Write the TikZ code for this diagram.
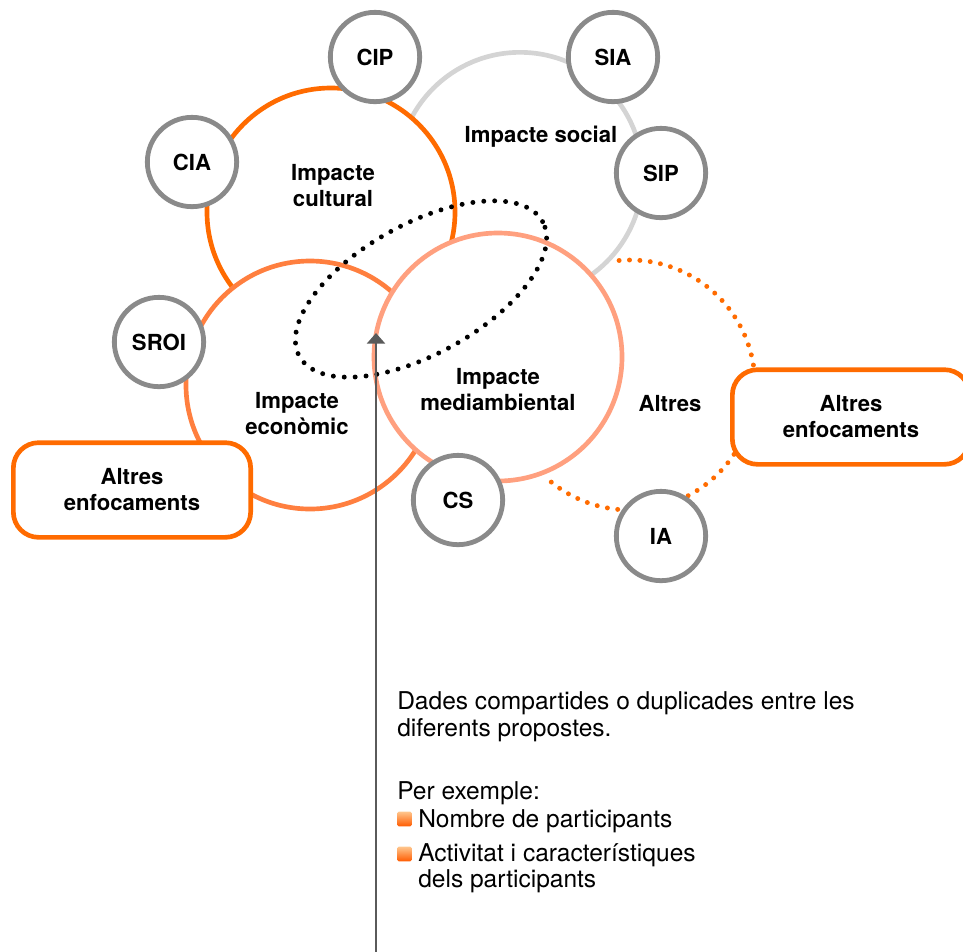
\documentclass[tikz,border=0pt]{standalone}
\usepackage{fontspec}
\setmainfont{TeX Gyre Heros}
\usetikzlibrary{positioning,shapes.geometric,arrows.meta}
\definecolor{cultorange}{HTML}{FF6B00}
\definecolor{ecoorange}{HTML}{FF7F3F}
\definecolor{envsalmon}{HTML}{FFA07F}
\definecolor{socgray}{HTML}{D4D4D4}
\definecolor{methodgray}{HTML}{8A8A8A}
\definecolor{arrowgray}{HTML}{5A5A5A}
\tikzset{
    impactmap/.style={
        x=0.75pt, y=-0.75pt,
        % big circle of one impact area
        area/.style={draw, circle, fill=white, line width=3.5pt,
                     minimum size=186pt, inner sep=0pt},
        % small grey circle of one method
        method/.style={draw=methodgray, circle, fill=white, line width=3.6pt,
                       minimum size=67pt, inner sep=0pt,
                       font=\bfseries\fontsize{16.6}{19.5}\selectfont},
        % rounded box for the other approaches
        approach/.style={draw=cultorange, rectangle, rounded corners=19pt,
                         fill=white, line width=3.5pt, align=center,
                         minimum width=178pt, minimum height=71pt,
                         font=\bfseries\fontsize{16.6}{19.5}\selectfont},
        % label of an impact area
        arealabel/.style={align=center, inner sep=0pt,
                          font=\bfseries\fontsize{16.6}{19.5}\selectfont},
        % dotted outlines
        blackdots/.style={draw=black, line width=3.7pt, line cap=round,
                          dash pattern=on 0pt off 8.2pt},
        altdots/.style={draw=cultorange, line width=3.7pt, line cap=round,
                        dash pattern=on 0pt off 7.8pt},
        pointer/.style={draw=arrowgray, line width=1.9pt,
                        -{Triangle[width=13.5pt,length=8pt]}},
        % explanatory text and its bullets
        note/.style={anchor=base west, inner sep=0pt,
                     font=\fontsize{18.4}{21}\selectfont},
        bullet/.style={rectangle, rounded corners=1.2pt, minimum size=11pt,
                       inner sep=0pt, top color=orange!45!white,
                       bottom color=cultorange!85!red}
    }
}
\begin{document}
\begin{tikzpicture}[impactmap]
  \useasboundingbox (0,0) rectangle (963,951);
  \clip (0,0) rectangle (963,951);

  % impact areas
  \node[area, draw=socgray, minimum size=184pt] (social) at (520,175) {};
  \node[area, draw=cultorange] (cultural) at (331,212) {};
  \node[area, draw=ecoorange] (economic) at (310,385) {};
  \coordinate (altrescenter) at (630,385);
  \draw[altdots] (altrescenter) ++(-95:125) arc[start angle=-95, end angle=133, radius=125];
  \node[area, draw=envsalmon] (environment) at (498,357) {};

  % shared data
  \node[blackdots, ellipse, rotate=29, minimum width=208.5pt, minimum height=97.5pt,
        inner sep=0pt] (shared) at (421,289) {};

  % methods
  \node[method] (cip) at (375,57) {CIP};
  \node[method] (cia) at (192,162) {CIA};
  \node[method] (sia) at (613,57) {SIA};
  \node[method] (sip) at (661,173) {SIP};
  \node[method] (sroi) at (159,342) {SROI};
  \node[method] (cs) at (458,500) {CS};
  \node[method] (ia) at (661,536) {IA};

  % other approaches
  \node[approach] (otherleft) at (132,490) {Altres\\enfocaments};
  \node[approach] (otherright) at (851,417) {Altres\\enfocaments};

  % area labels
  \node[arealabel] (cultlabel) at (333,186) {Impacte\\cultural};
  \node[arealabel] (soclabel) at (541,137) {Impacte social};
  \node[arealabel] (ecolabel) at (297,414) {Impacte\\econòmic};
  \node[arealabel] (envlabel) at (498,390) {Impacte\\mediambiental};
  \node[arealabel] (altlabel) at (670,404) {Altres};

  % pointer to the shared data
  \coordinate (foot) at (376,960);
  \coordinate (tip) at (376,333);
  \draw[pointer] (foot) -- (tip);

  % explanation
  \node[note] (intro1) at (397,709) {Dades compartides o duplicades entre les};
  \node[note] (intro2) at (397,736) {diferents propostes.};
  \node[note] (example) at (397,799) {Per exemple:};
  \node[note] (item1) at (418,827) {Nombre de participants};
  \node[note] (item2) at (418,861) {Activitat i característiques};
  \node[note] (item2b) at (418,887) {dels participants};
  \node[bullet] (bullet1) at (404.5,819) {};
  \node[bullet] (bullet2) at (404.5,854) {};
\end{tikzpicture}
\end{document}
